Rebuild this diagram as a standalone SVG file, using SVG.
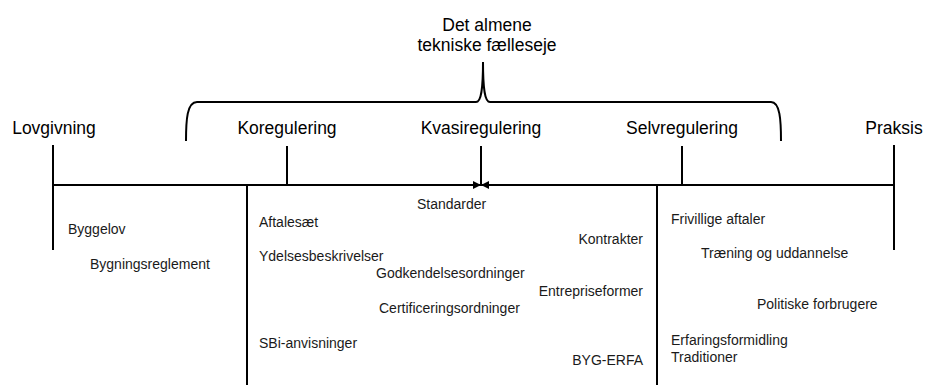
<svg xmlns="http://www.w3.org/2000/svg" width="925" height="385" viewBox="0 0 925 385">
<style>
.big{font-family:"Liberation Sans",Arial,sans-serif;font-size:17.5px;fill:#000;text-anchor:middle}
.sm{font-family:"Liberation Sans",Arial,sans-serif;font-size:14px;fill:#1a1a1a}
.ln{stroke:#000;stroke-width:2;fill:none}
</style>
<defs>
<marker id="ah" markerWidth="10" markerHeight="10" refX="8" refY="4" orient="auto" markerUnits="userSpaceOnUse">
<path d="M0,0 L8,4 L0,8 Z" fill="#000"/>
</marker>
</defs>
<rect width="925" height="385" fill="#fff"/>
<g id="brace">
<path class="ln" d="M186,141 C186,120 187,102 197,102 L476,102 C481,102 483,90 483,62 C483,90 485,102 490,102 L771,102 C780,102 781,120 781,141"/>
<text class="big" x="487" y="31">Det almene</text>
<text class="big" x="487" y="51">tekniske fælleseje</text>
</g>
<g id="connectors">
<line class="ln" x1="53" y1="185" x2="481" y2="185" marker-end="url(#ah)"/>
<line class="ln" x1="894" y1="185" x2="481" y2="185" marker-end="url(#ah)"/>
<line class="ln" x1="53" y1="145" x2="53" y2="250"/>
<line class="ln" x1="894" y1="145" x2="894" y2="250"/>
<line class="ln" x1="287" y1="146" x2="287" y2="185"/>
<line class="ln" x1="481" y1="146" x2="481" y2="185"/>
<line class="ln" x1="682" y1="146" x2="682" y2="185"/>
<line class="ln" x1="247" y1="185" x2="247" y2="385"/>
<line class="ln" x1="657" y1="185" x2="657" y2="385"/>
</g>
<g id="lovgivning">
<text class="big" x="54" y="134">Lovgivning</text>
<text class="sm" x="68" y="234">Byggelov</text>
<text class="sm" x="90" y="269">Bygningsreglement</text>
</g>
<g id="koregulering">
<text class="big" x="287" y="134">Koregulering</text>
</g>
<g id="kvasiregulering">
<text class="big" x="481" y="134">Kvasiregulering</text>
</g>
<g id="selvregulering">
<text class="big" x="682" y="134">Selvregulering</text>
</g>
<g id="praksis">
<text class="big" x="894" y="134">Praksis</text>
</g>
<g id="middle-items">
<text class="sm" x="417" y="209">Standarder</text>
<text class="sm" x="259" y="227">Aftalesæt</text>
<text class="sm" x="643" y="244" text-anchor="end">Kontrakter</text>
<text class="sm" x="259" y="261">Ydelsesbeskrivelser</text>
<text class="sm" x="376" y="278">Godkendelsesordninger</text>
<text class="sm" x="643" y="296" text-anchor="end">Entrepriseformer</text>
<text class="sm" x="379" y="313">Certificeringsordninger</text>
<text class="sm" x="259" y="348">SBi-anvisninger</text>
<text class="sm" x="643" y="365" text-anchor="end">BYG-ERFA</text>
</g>
<g id="right-items">
<text class="sm" x="671" y="224">Frivillige aftaler</text>
<text class="sm" x="701" y="258">Træning og uddannelse</text>
<text class="sm" x="757" y="309">Politiske forbrugere</text>
<text class="sm" x="671" y="345">Erfaringsformidling</text>
<text class="sm" x="671" y="362">Traditioner</text>
</g>
</svg>
